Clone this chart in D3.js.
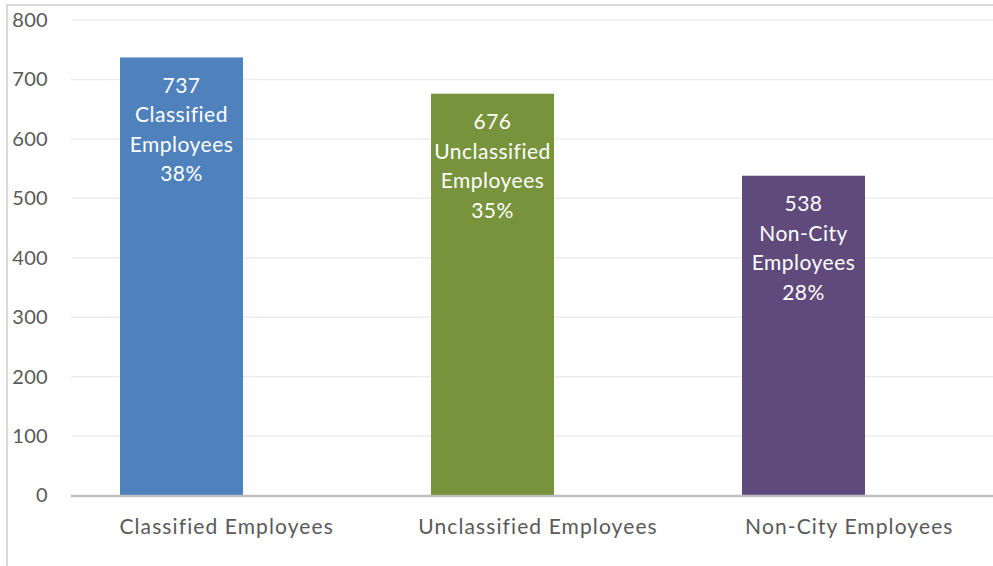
<!DOCTYPE html>
<html>
<head>
<meta charset="utf-8">
<script src="https://cdn.jsdelivr.net/npm/d3@7"></script>
<style>
  body { margin: 0; background: #fff; }
  svg { display: block; font-family: Lato, "Open Sans", sans-serif; }
</style>
</head>
<body>
<svg id="chart"></svg>
<script>
// chart data
const categories = ["Classified Employees", "Unclassified Employees", "Non-City Employees"];
const counts = [737, 676, 538];
const shares = ["38%", "35%", "28%"];
const barLabels = [
  ["737", "Classified", "Employees", "38%"],
  ["676", "Unclassified", "Employees", "35%"],
  ["538", "Non-City", "Employees", "28%"],
];
const colors = ["#4F81BD", "#77933C", "#604A7B"];
const yTicks = [0, 100, 200, 300, 400, 500, 600, 700, 800];

const width = 993;
const height = 566;

const svg = d3.select("#chart").attr("width", width).attr("height", height);

// outer chart border (runs off the right/bottom edge)
svg.append("rect")
  .attr("x", 7).attr("y", 5)
  .attr("width", width + 10).attr("height", height + 10)
  .attr("fill", "none")
  .attr("stroke", "#D9D9D9")
  .attr("stroke-width", 2);

const plotLeft = 71;
const plotRight = width;

const y = d3.scaleLinear().domain([0, 800]).range([495.5, 20]);

// bars sit a bit left of the category slots, like the original
const x = d3.scaleBand()
  .domain(categories)
  .range([26, 959])
  .paddingInner(0.6045)
  .paddingOuter(0.30225);

// category label slots
const xLabel = d3.scaleBand()
  .domain(categories)
  .range([71, 1005]);

// gridlines
svg.append("g")
  .selectAll("line")
  .data(yTicks.filter((d) => d > 0))
  .join("line")
  .attr("x1", plotLeft).attr("x2", plotRight)
  .attr("y1", (d) => y(d)).attr("y2", (d) => y(d))
  .attr("stroke", "#EDEDED")
  .attr("stroke-width", 1.5);

// y axis labels
const yAxis = svg.append("g")
  .attr("transform", `translate(48,0)`)
  .call(d3.axisLeft(y).tickValues(yTicks).tickSize(0).tickPadding(0));
yAxis.select(".domain").remove();
yAxis.selectAll("text")
  .attr("fill", "#595959")
  .style("font-size", "20px")
  .style("letter-spacing", "0.3px")
  .style("font-family", "Lato, sans-serif");

// bars
const data = categories.map((c, i) => ({ cat: c, value: counts[i], lines: barLabels[i], color: colors[i], share: shares[i] }));

svg.append("g")
  .selectAll("rect")
  .data(data)
  .join("rect")
  .attr("x", (d) => x(d.cat))
  .attr("y", (d) => y(d.value))
  .attr("width", x.bandwidth())
  .attr("height", (d) => y(0) - y(d.value))
  .attr("fill", (d) => d.color);

// in-bar labels
const labelGroups = svg.append("g")
  .selectAll("text")
  .data(data)
  .join("text")
  .attr("text-anchor", "middle")
  .attr("fill", "#fff")
  .style("font-size", "21px")
  .style("letter-spacing", "0.5px")
  .attr("x", (d) => x(d.cat) + x.bandwidth() / 2)
  .attr("y", (d) => y(d.value) + 28);

labelGroups.selectAll("tspan")
  .data((d) => d.lines.map((t) => ({ t, cx: x(d.cat) + x.bandwidth() / 2 })))
  .join("tspan")
  .attr("x", (d) => d.cx)
  .attr("dy", (d, i) => (i === 0 ? "0.35em" : "29.5px"))
  .text((d) => d.t);

// x axis line
svg.append("line")
  .attr("x1", plotLeft).attr("x2", plotRight)
  .attr("y1", y(0) + 0.5).attr("y2", y(0) + 0.5)
  .attr("stroke", "#BFBFBF")
  .attr("stroke-width", 2.5);

// category labels
svg.append("g")
  .selectAll("text")
  .data(categories)
  .join("text")
  .attr("x", (d) => xLabel(d) + xLabel.bandwidth() / 2)
  .attr("y", 527)
  .attr("dy", "0.35em")
  .attr("text-anchor", "middle")
  .attr("fill", "#595959")
  .style("font-size", "21px")
  .style("letter-spacing", "1.1px")
  .text((d) => d);
</script>
</body>
</html>
